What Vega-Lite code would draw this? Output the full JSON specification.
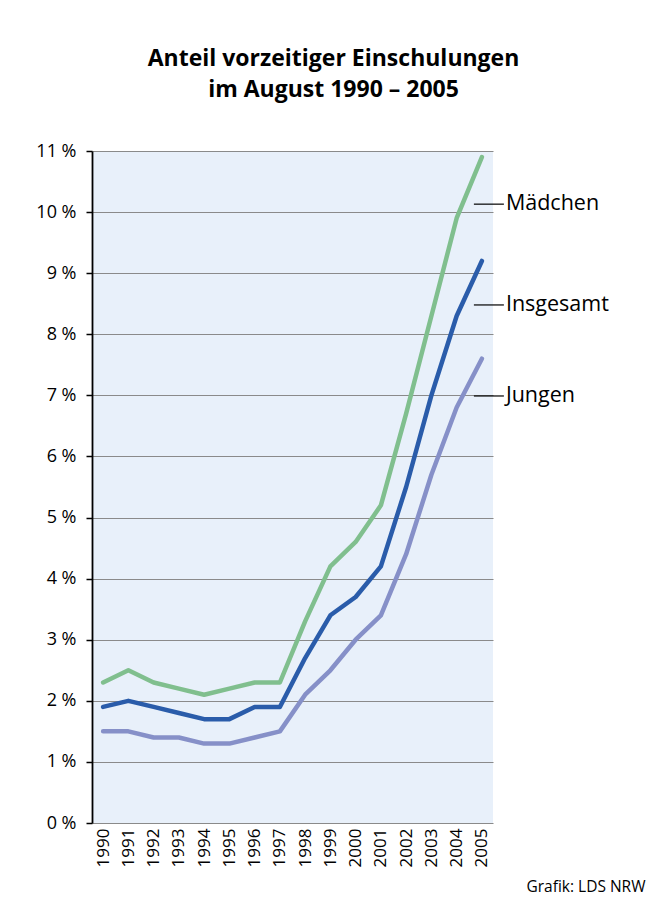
{
  "$schema": "https://vega.github.io/schema/vega-lite/v6.json",
  "autosize": {"type": "none"},
  "padding": {"left": 92, "top": 151, "right": 162, "bottom": 75},
  "width": 401,
  "height": 672,
  "background": "white",
  "title": {
    "text": ["Anteil vorzeitiger Einschulungen", "im August 1990 – 2005"],
    "font": "Open Sans",
    "fontWeight": "bold",
    "fontSize": 23,
    "lineHeight": 31,
    "color": "#000000",
    "anchor": "middle",
    "dx": 41,
    "offset": 40
  },
  "config": {
    "view": {"fill": "#E8F0FA", "stroke": null},
    "font": "Open Sans"
  },
  "datasets": {
    "series": [
      {"year": 1990, "series": "Mädchen", "value": 2.3},
      {"year": 1991, "series": "Mädchen", "value": 2.5},
      {"year": 1992, "series": "Mädchen", "value": 2.3},
      {"year": 1993, "series": "Mädchen", "value": 2.2},
      {"year": 1994, "series": "Mädchen", "value": 2.1},
      {"year": 1995, "series": "Mädchen", "value": 2.2},
      {"year": 1996, "series": "Mädchen", "value": 2.3},
      {"year": 1997, "series": "Mädchen", "value": 2.3},
      {"year": 1998, "series": "Mädchen", "value": 3.3},
      {"year": 1999, "series": "Mädchen", "value": 4.2},
      {"year": 2000, "series": "Mädchen", "value": 4.6},
      {"year": 2001, "series": "Mädchen", "value": 5.2},
      {"year": 2002, "series": "Mädchen", "value": 6.7},
      {"year": 2003, "series": "Mädchen", "value": 8.3},
      {"year": 2004, "series": "Mädchen", "value": 9.9},
      {"year": 2005, "series": "Mädchen", "value": 10.9},
      {"year": 1990, "series": "Insgesamt", "value": 1.9},
      {"year": 1991, "series": "Insgesamt", "value": 2.0},
      {"year": 1992, "series": "Insgesamt", "value": 1.9},
      {"year": 1993, "series": "Insgesamt", "value": 1.8},
      {"year": 1994, "series": "Insgesamt", "value": 1.7},
      {"year": 1995, "series": "Insgesamt", "value": 1.7},
      {"year": 1996, "series": "Insgesamt", "value": 1.9},
      {"year": 1997, "series": "Insgesamt", "value": 1.9},
      {"year": 1998, "series": "Insgesamt", "value": 2.7},
      {"year": 1999, "series": "Insgesamt", "value": 3.4},
      {"year": 2000, "series": "Insgesamt", "value": 3.7},
      {"year": 2001, "series": "Insgesamt", "value": 4.2},
      {"year": 2002, "series": "Insgesamt", "value": 5.5},
      {"year": 2003, "series": "Insgesamt", "value": 7.0},
      {"year": 2004, "series": "Insgesamt", "value": 8.3},
      {"year": 2005, "series": "Insgesamt", "value": 9.2},
      {"year": 1990, "series": "Jungen", "value": 1.5},
      {"year": 1991, "series": "Jungen", "value": 1.5},
      {"year": 1992, "series": "Jungen", "value": 1.4},
      {"year": 1993, "series": "Jungen", "value": 1.4},
      {"year": 1994, "series": "Jungen", "value": 1.3},
      {"year": 1995, "series": "Jungen", "value": 1.3},
      {"year": 1996, "series": "Jungen", "value": 1.4},
      {"year": 1997, "series": "Jungen", "value": 1.5},
      {"year": 1998, "series": "Jungen", "value": 2.1},
      {"year": 1999, "series": "Jungen", "value": 2.5},
      {"year": 2000, "series": "Jungen", "value": 3.0},
      {"year": 2001, "series": "Jungen", "value": 3.4},
      {"year": 2002, "series": "Jungen", "value": 4.4},
      {"year": 2003, "series": "Jungen", "value": 5.7},
      {"year": 2004, "series": "Jungen", "value": 6.8},
      {"year": 2005, "series": "Jungen", "value": 7.6}
    ],
    "labels": [
      {"year": 2005, "series": "Mädchen", "labelY": 10.13},
      {"year": 2005, "series": "Insgesamt", "labelY": 8.48},
      {"year": 2005, "series": "Jungen", "labelY": 6.99}
    ]
  },
  "encoding": {
    "x": {
      "field": "year",
      "type": "ordinal",
      "scale": {"type": "point", "padding": 0.44},
      "axis": {
        "title": "Grafik: LDS NRW",
        "titleFont": "Open Sans",
        "titleFontSize": 15.5,
        "titleFontWeight": "normal",
        "titleColor": "#000000",
        "titleAnchor": "end",
        "titleAlign": "right",
        "titleBaseline": "alphabetic",
        "titleX": 553,
        "titleY": 68,
        "domain": false,
        "ticks": false,
        "labelAngle": -90,
        "labelAlign": "right",
        "labelBaseline": "middle",
        "labelFontSize": 17,
        "labelColor": "#000000",
        "labelPadding": 5,
        "grid": false
      }
    },
    "y": {
      "type": "quantitative",
      "scale": {"domain": [0, 11], "nice": false, "zero": true},
      "axis": {
        "title": null,
        "values": [0, 1, 2, 3, 4, 5, 6, 7, 8, 9, 10, 11],
        "labelExpr": "datum.value + ' %'",
        "labelFontSize": 18,
        "labelColor": "#000000",
        "labelPadding": 10,
        "tickSize": 6,
        "tickColor": "#000000",
        "tickWidth": 1.5,
        "domainColor": "#000000",
        "domainWidth": 1.8,
        "grid": true,
        "gridColor": "#8A8A8A",
        "gridWidth": 1.2
      }
    }
  },
  "layer": [
    {
      "data": {"name": "series"},
      "mark": {"type": "line", "strokeWidth": 4.5, "strokeCap": "round", "strokeJoin": "round"},
      "encoding": {
        "y": {"field": "value"},
        "color": {
          "field": "series",
          "type": "nominal",
          "scale": {"domain": ["Mädchen", "Insgesamt", "Jungen"], "range": ["#80BF8E", "#2A5CAA", "#8690C8"]},
          "legend": null
        }
      }
    },
    {
      "data": {"name": "labels"},
      "mark": {"type": "rule", "color": "#000000", "strokeWidth": 1.2, "xOffset": -8, "x2Offset": 22},
      "encoding": {
        "y": {"field": "labelY"},
        "x2": {"field": "year"}
      }
    },
    {
      "data": {"name": "labels"},
      "mark": {"type": "text", "align": "left", "baseline": "middle", "dx": 24, "fontSize": 21.5, "font": "Open Sans", "color": "#000000"},
      "encoding": {
        "y": {"field": "labelY"},
        "text": {"field": "series"}
      }
    }
  ]
}
